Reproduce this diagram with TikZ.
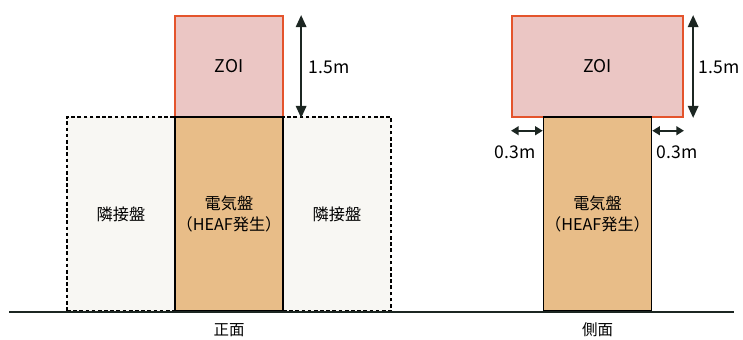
\documentclass[tikz,border=0pt]{standalone}
\usepackage{fontspec}
\setmainfont{Noto Sans CJK JP}
\usetikzlibrary{arrows.meta,positioning}
\definecolor{panelTan}{HTML}{E8BD88}
\definecolor{zoiPink}{HTML}{EBC6C4}
\definecolor{zoiEdge}{HTML}{E4542C}
\definecolor{inkDark}{HTML}{1C2622}
\definecolor{nearWhite}{HTML}{F8F7F3}
\begin{document}
\begin{tikzpicture}[x=0.025cm,y=-0.025cm,
 panel/.style={draw=black,line width=1.1pt,fill=panelTan,minimum width=2.7cm,minimum height=4.85cm,inner sep=0pt,align=center,font=\fontsize{11.5}{15}\selectfont},
 adj/.style={draw=black,line width=1.1pt,dash pattern=on 2.6pt off 1.8pt,fill=nearWhite,minimum width=2.7cm,minimum height=4.85cm,inner sep=0pt,font=\fontsize{11.5}{15}\selectfont},
 zoi/.style={draw=zoiEdge,line width=1.3pt,fill=zoiPink,minimum height=2.525cm,inner sep=0pt,font=\fontsize{12.5}{14}\selectfont},
 dim/.style={{Triangle[length=3mm,width=2.6mm]}-{Triangle[length=3mm,width=2.6mm]},draw=inkDark,line width=1.4pt},
 gap/.style={{Triangle[length=1.9mm,width=2.2mm]}-{Triangle[length=1.9mm,width=2.2mm]},draw=inkDark,line width=1.2pt},
 lbl/.style={font=\fontsize{12.5}{14}\selectfont,inner sep=0pt},
 view/.style={font=\fontsize{11}{13}\selectfont,inner sep=0pt}]
\useasboundingbox (0,0) rectangle (743,340);
\node[adj] (adjL) at (121,214) {隣接盤};
\node[adj] (adjR) at (337,214) {隣接盤};
\node[zoi,minimum width=2.7cm] (zoiA) at (229,66.5) {ZOI};
\node[panel] (elecA) at (229,214) {電気盤\\（HEAF発生）};
\node[zoi,minimum width=4.275cm] (zoiB) at (597.5,66.5) {ZOI};
\node[panel] (elecB) at (597.5,214) {電気盤\\（HEAF発生）};
\coordinate (g0) at (9,312);
\coordinate (g1) at (734,312);
\draw[draw=inkDark,line width=1.5pt] (g0) -- (g1);
\draw[dim] ([xshift=0.43cm]zoiA.north east) -- ([xshift=0.43cm]zoiA.south east);
\draw[dim] ([xshift=0.23cm]zoiB.north east) -- ([xshift=0.23cm]zoiB.south east);
\node[lbl] (hA) at (329,67) {1.5m};
\node[lbl] (hB) at (719,67) {1.5m};
\coordinate (sL) at ([yshift=-0.32cm]zoiB.south west);
\coordinate (sR) at ([yshift=-0.32cm]zoiB.south east);
\draw[gap] (sL) -- (sL -| elecB.west);
\draw[gap] (sR -| elecB.east) -- (sR);
\node[lbl] (wL) at (515,152) {0.3m};
\node[lbl] (wR) at (677,152) {0.3m};
\node[view] (front) at (229,330) {正面};
\node[view] (side) at (597.5,330) {側面};
\end{tikzpicture}
\end{document}
